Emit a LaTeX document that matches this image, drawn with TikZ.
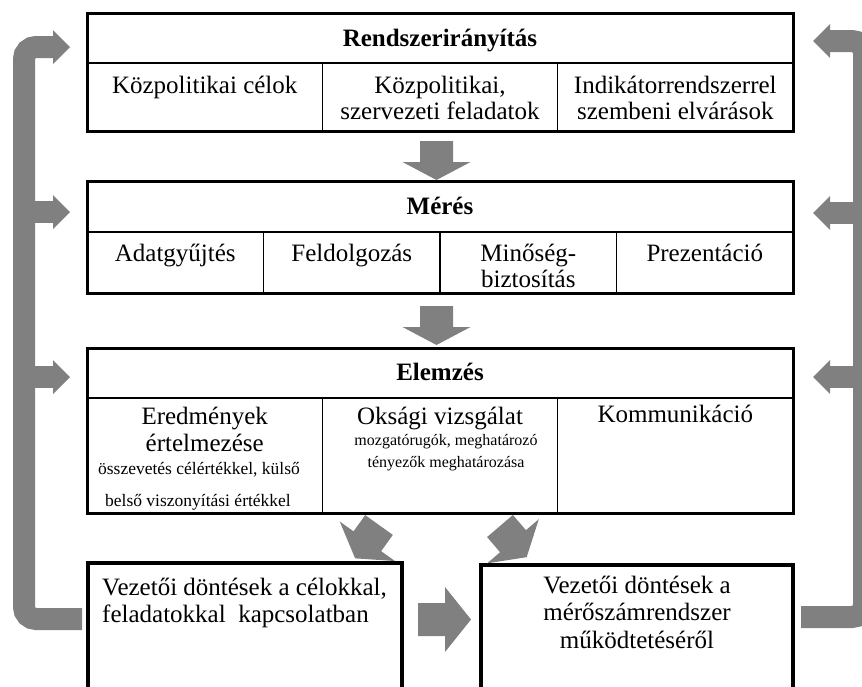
\documentclass[tikz,border=0pt]{standalone}
\usepackage{fontspec}
\setmainfont{Liberation Serif}
\usetikzlibrary{calc}

\definecolor{arrowgray}{RGB}{128,128,128}
\newcommand\mainsize{\fontsize{25}{28}\selectfont}
\newcommand\smallsize{\fontsize{17.5}{20}\selectfont}
\newcommand\tinysize{\fontsize{16}{19}\selectfont}

% block arrow: x, y, angle, length, head length, stem half width, head half width
\newcommand\blockarrow[7]{%
  \fill[arrowgray, shift={(#1,#2)}, rotate=#3]
    (0,-#6) -- (#4-#5,-#6) -- (#4-#5,-#7) -- (#4,0) -- (#4-#5,#7) -- (#4-#5,#6) -- (0,#6) -- cycle;}

\tikzset{
  panel/.style={draw, line width=3pt, inner sep=0pt, minimum width=706pt},
  decision/.style={draw, line width=3.5pt, inner sep=0pt},
  grid/.style={line width=1.2pt},
  lbl/.style={anchor=base, inner sep=0pt, font=\mainsize},
  hdr/.style={anchor=base, inner sep=0pt, font=\bfseries\mainsize},
  note/.style={anchor=base, inner sep=0pt, font=\smallsize},
  tiny/.style={anchor=base, inner sep=0pt, font=\tinysize},
  feedback/.style={draw=arrowgray, line width=22pt, rounded corners=12pt},
  branch/.style={draw=arrowgray, line width=22pt},
}

\begin{document}
\begin{tikzpicture}[x=1pt, y=-1pt]
\useasboundingbox (0,0) rectangle (862,686);
\clip (0,0) rectangle (862,686);

% feedback brackets on both sides
\draw[feedback] (82,619) -| (24,47) -- (56,47);
\draw[branch] (24,212) -- (56,212);
\draw[branch] (24,377) -- (56,377);
\fill[arrowgray] (53,30) -- (70,47) -- (53,64) -- cycle;
\fill[arrowgray] (53,195) -- (70,212) -- (53,229) -- cycle;
\fill[arrowgray] (53,360) -- (70,377) -- (53,394) -- cycle;

\draw[feedback] (801,617) -| (864,41) -- (828,41);
\draw[branch] (864,213) -- (828,213);
\draw[branch] (864,377) -- (828,377);
\fill[arrowgray] (830,24) -- (813,41) -- (830,58) -- cycle;
\fill[arrowgray] (830,196) -- (813,213) -- (830,230) -- cycle;
\fill[arrowgray] (830,360) -- (813,377) -- (830,394) -- cycle;

% Rendszerirányítás
\node[panel, minimum height=118pt] (rb) at (440,72) {};
\draw[grid] (rb.west |- 0,63) -- (rb.east |- 0,63);
\draw[grid] (322.3,63) -- (322.3,0 |- rb.south);
\draw[grid] (557.7,63) -- (557.7,0 |- rb.south);
\node[hdr] (rbh) at (440,46) {Rendszerirányítás};
\node[lbl] (rb1) at (204.7,93) {Közpolitikai célok};
\node[lbl] (rb2) at (440,93) {Közpolitikai,};
\node[lbl] (rb2b) at (440,119) {szervezeti feladatok};
\node[lbl] (rb3) at (675.3,93) {Indikátorrendszerrel};
\node[lbl] (rb3b) at (675.3,119) {szembeni elvárások};

% Mérés
\node[panel, minimum height=112pt] (me) at (440,237) {};
\draw[grid] (me.west |- 0,232) -- (me.east |- 0,232);
\draw[grid] (263.5,232) -- (263.5,0 |- me.south);
\draw[grid] (440,232) -- (440,0 |- me.south);
\draw[grid] (616.5,232) -- (616.5,0 |- me.south);
\node[hdr] (meh) at (440,214) {Mérés};
\node[lbl] (me1) at (175.3,261) {Adatgyűjtés};
\node[lbl] (me2) at (351.8,261) {Feldolgozás};
\node[lbl] (me3) at (528.3,261) {Minőség-};
\node[lbl] (me3b) at (528.3,287) {biztosítás};
\node[lbl] (me4) at (704.8,261) {Prezentáció};

% Elemzés
\node[panel, minimum height=165pt] (el) at (440,430.5) {};
\draw[grid] (el.west |- 0,398) -- (el.east |- 0,398);
\draw[grid] (322.3,398) -- (322.3,0 |- el.south);
\draw[grid] (557.7,398) -- (557.7,0 |- el.south);
\node[hdr] (elh) at (440,380) {Elemzés};
\node[lbl] (el1) at (204.7,424) {Eredmények};
\node[lbl] (el1b) at (204.7,451) {értelmezése};
\node[note] (el1c) at (199,474) {összevetés célértékkel, külső};
\node[note] (el1d) at (198,506) {belső viszonyítási értékkel};
\node[lbl] (el2) at (440,424) {Oksági vizsgálat};
\node[tiny] (el2b) at (446,445) {mozgatórugók, meghatározó};
\node[tiny] (el2c) at (446,467) {tényezők meghatározása};
\node[lbl] (el3) at (675.3,422) {Kommunikáció};

% decisions
\node[decision, minimum width=314pt, minimum height=160pt] (dl) at (245,643) {};
\node[decision, minimum width=312pt, minimum height=160pt] (dr) at (637,645) {};
\node[lbl, anchor=base west] (dl1) at (102,595) {Vezetői döntések a célokkal,};
\node[lbl, anchor=base west] (dl2) at (102,622) {feladatokkal\ \ kapcsolatban};
\node[lbl] (dr1) at (637,593) {Vezetői döntések a};
\node[lbl] (dr2) at (637,620) {mérőszámrendszer};
\node[lbl] (dr3) at (637,648) {működtetéséről};

% flow arrows
\blockarrow{436.5}{141}{-90}{39}{18}{16.5}{34}
\blockarrow{436.5}{306}{-90}{39}{18}{16.5}{34}
\blockarrow{379}{525}{-125.6}{41}{21}{17}{34}
\blockarrow{500}{526}{-49.5}{41}{21}{17}{34}
\blockarrow{418}{619.5}{0}{53}{26}{16.5}{32.5}
\end{tikzpicture}
\end{document}
